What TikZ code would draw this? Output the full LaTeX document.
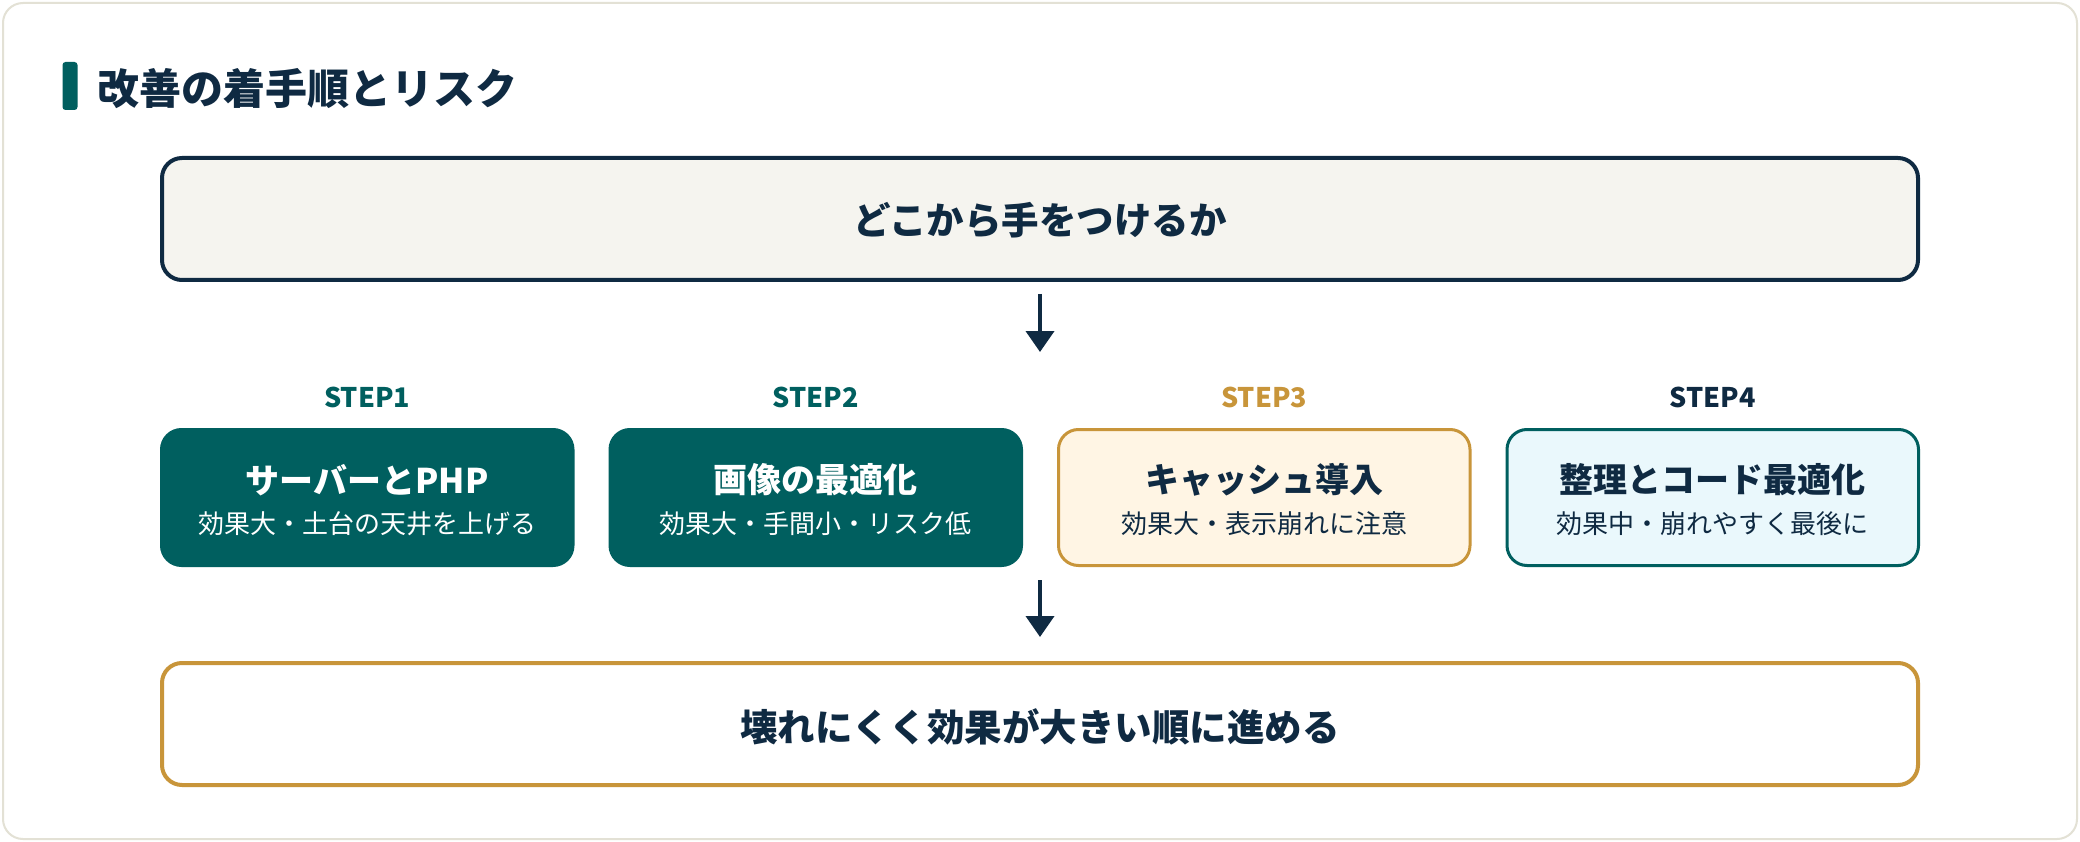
\documentclass[tikz,border=0pt]{standalone}
\usepackage{fontspec}
\setmainfont{Noto Sans CJK JP}
\usetikzlibrary{arrows.meta}
\definecolor{cteal}{HTML}{005F5F}
\definecolor{cnavy}{HTML}{0F2A42}
\definecolor{cgold}{HTML}{C8953A}
\definecolor{ctopfill}{HTML}{F5F4EF}
\definecolor{cwarm}{HTML}{FFF5E4}
\definecolor{ccool}{HTML}{EAF8FC}
\definecolor{cframe}{HTML}{E3E1D5}
\tikzset{
  bigbox/.style={rounded corners=20pt, line width=4pt, minimum width=1756pt, minimum height=122pt, inner sep=0pt},
  stepbox/.style={rounded corners=20pt, line width=3pt, minimum width=411.5pt, minimum height=136pt, inner sep=0pt},
  steplabel/.style={font=\bfseries\fontsize{27}{27}\selectfont, inner sep=0pt},
  boxtitle/.style={font=\bfseries\fontsize{34}{34}\selectfont, inner sep=0pt},
  boxsub/.style={font=\fontsize{26}{26}\selectfont, inner sep=0pt},
  arr/.style={draw=cnavy, line width=4pt, -{Triangle[width=28pt,length=21pt]}},
}
\begin{document}
\begin{tikzpicture}[x=1pt,y=-1pt]
\useasboundingbox (0,0) rectangle (2080,842);
\fill[white] (0,0) rectangle (2080,842);
\draw[cframe, line width=2pt, fill=white, rounded corners=20pt] (3,3) rectangle (2077,839);
% title
\node[fill=cteal, rounded corners=3pt, minimum width=15pt, minimum height=48pt, inner sep=0pt] (bar) at (70,86) {};
\node[anchor=west, text=cnavy, font=\bfseries\fontsize{42}{42}\selectfont, inner sep=0pt] (title) at (97,89) {改善の着手順とリスク};
% top box
\node[bigbox, draw=cnavy, fill=ctopfill] (top) at (1040,219) {};
\node[text=cnavy, font=\bfseries\fontsize{37.5}{37.5}\selectfont, inner sep=0pt] (toptext) at (1040,220) {どこから手をつけるか};
% arrow 1
\coordinate (a1s) at (1040,294);
\coordinate (a1e) at (1040,352);
\draw[arr] (a1s) -- (a1e);
% step labels
\node[steplabel, text=cteal] (l1) at (367.25,397) {STEP1};
\node[steplabel, text=cteal] (l2) at (815.75,397) {STEP2};
\node[steplabel, text=cgold] (l3) at (1264.25,397) {STEP3};
\node[steplabel, text=cnavy] (l4) at (1712.75,397) {STEP4};
% step boxes
\node[stepbox, draw=cteal, fill=cteal] (s1) at (367.25,497.5) {};
\node[stepbox, draw=cteal, fill=cteal] (s2) at (815.75,497.5) {};
\node[stepbox, draw=cgold, fill=cwarm] (s3) at (1264.25,497.5) {};
\node[stepbox, draw=cteal, fill=ccool] (s4) at (1712.75,497.5) {};
\node[boxtitle, text=white] (t1) at (367.25,480) {サーバーとPHP};
\node[boxsub, text=white] (u1) at (367.25,524) {効果大・土台の天井を上げる};
\node[boxtitle, text=white] (t2) at (815.75,480) {画像の最適化};
\node[boxsub, text=white] (u2) at (815.75,524) {効果大・手間小・リスク低};
\node[boxtitle, text=cnavy] (t3) at (1264.25,480) {キャッシュ導入};
\node[boxsub, text=cnavy] (u3) at (1264.25,524) {効果大・表示崩れに注意};
\node[boxtitle, text=cnavy] (t4) at (1712.75,480) {整理とコード最適化};
\node[boxsub, text=cnavy] (u4) at (1712.75,524) {効果中・崩れやすく最後に};
% arrow 2
\coordinate (a2s) at (1040,580);
\coordinate (a2e) at (1040,637);
\draw[arr] (a2s) -- (a2e);
% bottom box
\node[bigbox, draw=cgold, fill=white] (bottom) at (1040,724) {};
\node[text=cnavy, font=\bfseries\fontsize{37.5}{37.5}\selectfont, inner sep=0pt] (bottext) at (1040,727) {壊れにくく効果が大きい順に進める};
\end{tikzpicture}
\end{document}
